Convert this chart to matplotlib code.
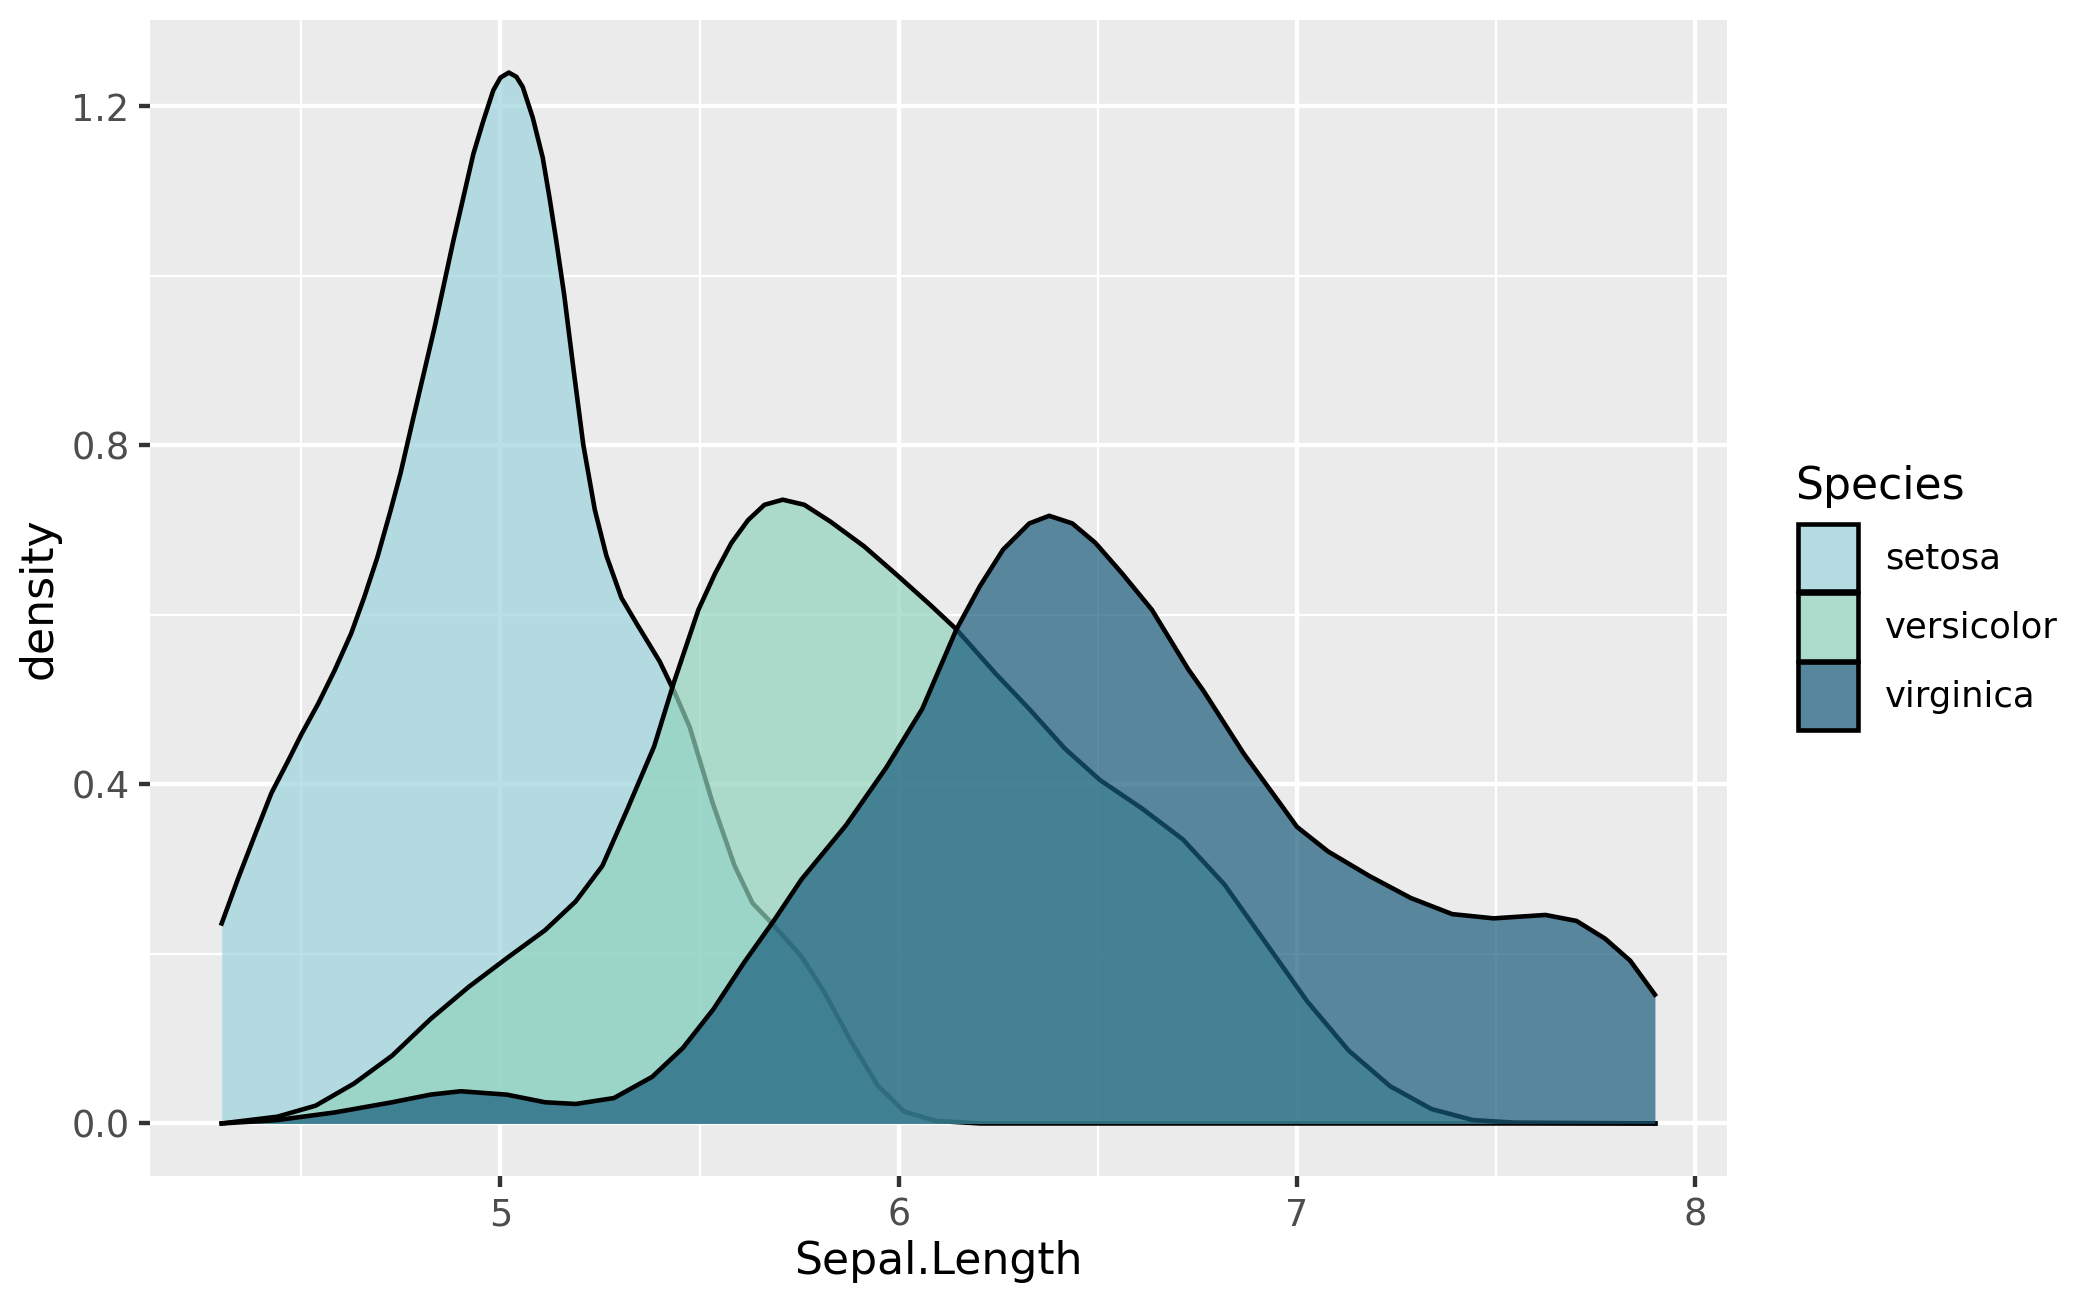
import numpy as np
import matplotlib
matplotlib.use('Agg')
import matplotlib.pyplot as plt
from matplotlib.patches import Patch
from matplotlib.ticker import MultipleLocator

# density curves (Sepal.Length, density)
species = ['setosa', 'versicolor', 'virginica']

x_setosa = [4.30, 4.342, 4.384, 4.425, 4.467, 4.50, 4.542, 4.583, 4.625, 4.658,
            4.691, 4.724, 4.749, 4.78, 4.81, 4.835, 4.858, 4.882, 4.907, 4.932,
            4.957, 4.982, 5.00, 5.021, 5.04, 5.056, 5.081, 5.106, 5.123, 5.14,
            5.16, 5.184, 5.208, 5.237, 5.266, 5.304, 5.343, 5.40, 5.439, 5.475,
            5.533, 5.588, 5.633, 5.68, 5.756, 5.812, 5.879, 5.947, 6.014, 6.093,
            6.205, 7.9]
y_setosa = [0.236, 0.290, 0.341, 0.390, 0.428, 0.459, 0.495, 0.534, 0.578, 0.621,
            0.668, 0.723, 0.767, 0.83, 0.89, 0.94, 0.99, 1.042, 1.093, 1.144,
            1.183, 1.219, 1.234, 1.240, 1.235, 1.223, 1.187, 1.140, 1.093, 1.042,
            0.978, 0.888, 0.801, 0.724, 0.67, 0.62, 0.589, 0.545, 0.507, 0.468,
            0.378, 0.304, 0.26, 0.237, 0.197, 0.156, 0.098, 0.045, 0.014, 0.003,
            0.0, 0.0]

x_versicolor = [4.30, 4.44, 4.536, 4.632, 4.728, 4.824, 4.92, 5.016, 5.112, 5.189,
                5.256, 5.318, 5.386, 5.436, 5.497, 5.539, 5.58, 5.622, 5.663, 5.709,
                5.763, 5.829, 5.913, 5.996, 6.079, 6.145, 6.245, 6.328, 6.418, 6.506,
                6.61, 6.714, 6.818, 6.922, 7.026, 7.13, 7.234, 7.338, 7.442, 7.546,
                7.9]
y_versicolor = [0.0, 0.008, 0.021, 0.047, 0.08, 0.123, 0.161, 0.195, 0.228, 0.262,
                0.304, 0.37, 0.445, 0.521, 0.606, 0.649, 0.685, 0.712, 0.730, 0.736,
                0.730, 0.710, 0.681, 0.647, 0.612, 0.583, 0.530, 0.489, 0.442, 0.405,
                0.372, 0.335, 0.282, 0.213, 0.144, 0.086, 0.044, 0.017, 0.004, 0.001,
                0.0]

x_virginica = [4.30, 4.44, 4.584, 4.728, 4.824, 4.90, 5.016, 5.112, 5.189, 5.285,
               5.381, 5.458, 5.535, 5.612, 5.689, 5.756, 5.868, 5.969, 6.059, 6.145,
               6.204, 6.262, 6.328, 6.378, 6.436, 6.494, 6.561, 6.636, 6.727, 6.766,
               6.867, 6.957, 7.0, 7.078, 7.182, 7.286, 7.39, 7.494, 7.624, 7.702,
               7.774, 7.837, 7.899]
y_virginica = [0.0, 0.004, 0.013, 0.025, 0.034, 0.038, 0.034, 0.025, 0.023, 0.03,
               0.055, 0.089, 0.135, 0.19, 0.241, 0.288, 0.352, 0.42, 0.489, 0.583,
               0.634, 0.677, 0.708, 0.717, 0.708, 0.685, 0.649, 0.606, 0.536, 0.51,
               0.436, 0.378, 0.35, 0.321, 0.292, 0.266, 0.247, 0.242, 0.246, 0.239,
               0.218, 0.192, 0.152]

xs = [x_setosa, x_versicolor, x_virginica]
ys = [y_setosa, y_versicolor, y_virginica]

colors = ['#9cd4de', '#91d4bd', '#185c7c']
alpha = 0.7
panel_bg = '#ebebeb'

plt.rcParams['font.family'] = 'DejaVu Sans'

W, H = 2100, 1299
fig = plt.figure(figsize=(7, 4.33), dpi=300)
ax = fig.add_axes([150/W, 1 - 1176/H, (1727 - 150)/W, (1176 - 20)/H])
ax.set_facecolor(panel_bg)

# each group: fill then outline, so later fills cover earlier outlines
for i, (x, y, c) in enumerate(zip(xs, ys, colors)):
    ax.fill_between(x, y, 0, color=c, alpha=alpha, lw=0, zorder=2 + 2*i)
    ax.plot(x, y, color='black', lw=1.1, solid_joinstyle='round', zorder=3 + 2*i)

ax.set_xlim(4.12, 8.08)
ax.set_ylim(-0.062, 1.302)
ax.xaxis.set_major_locator(MultipleLocator(1))
ax.xaxis.set_minor_locator(MultipleLocator(0.5))
ax.yaxis.set_major_locator(MultipleLocator(0.4))
ax.yaxis.set_minor_locator(MultipleLocator(0.2))
ax.yaxis.set_major_formatter(matplotlib.ticker.FormatStrFormatter('%.1f'))
ax.grid(which='major', color='white', lw=1.05, zorder=0.5)
ax.grid(which='minor', color='white', lw=0.53, zorder=0.5)
ax.set_axisbelow(True)
for s in ax.spines.values():
    s.set_visible(False)
ax.tick_params(which='major', length=2.75, width=1.05, color='#333333',
               labelcolor='#4d4d4d', labelsize=8.8, pad=2.2)
ax.tick_params(which='minor', length=0)

ax.set_xlabel('Sepal.Length', fontsize=10.6, labelpad=1.5)
ax.set_ylabel('density', fontsize=10.6, labelpad=2.5)

# legend keys: fill blended on the panel grey, black border
bg = np.array(matplotlib.colors.to_rgb(panel_bg))
handles = []
for sp, c in zip(species, colors):
    fc = alpha * np.array(matplotlib.colors.to_rgb(c)) + (1 - alpha) * bg
    handles.append(Patch(facecolor=fc, edgecolor='black', lw=1.1, label=sp))
fig.text(1795/W, 1 - 487/H, 'Species', fontsize=10.6, ha='left', va='center')
fig.legend(handles=handles, loc='upper left',
           bbox_to_anchor=(1798/W, 1 - 524/H), frameon=False,
           fontsize=8.5, handlelength=1.7, handleheight=2.55,
           labelspacing=0.05, handletextpad=0.75,
           borderpad=0, borderaxespad=0)

fig.savefig('out.png', dpi=300)
